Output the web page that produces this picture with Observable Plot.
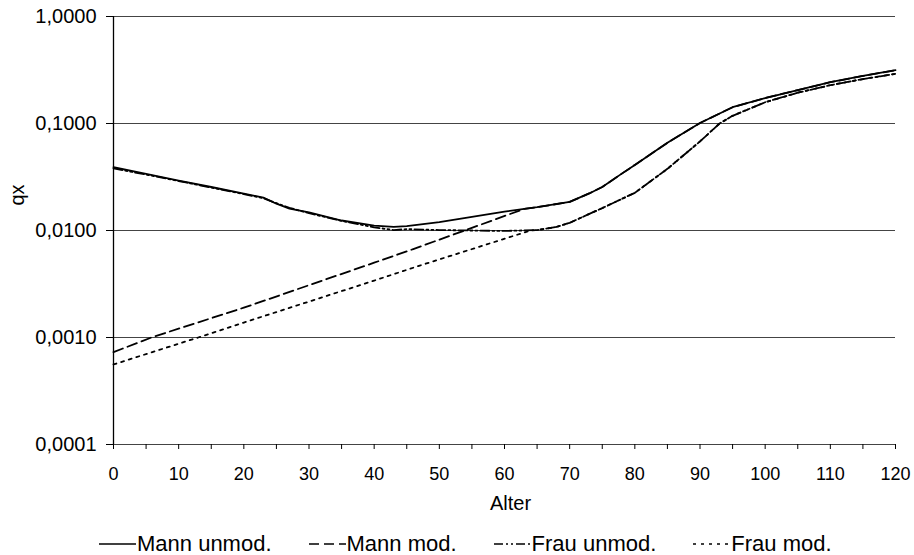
<!DOCTYPE html>
<html>
<head>
<meta charset="utf-8">
<script src="https://cdn.jsdelivr.net/npm/d3@7"></script>
<script src="https://cdn.jsdelivr.net/npm/@observablehq/plot@0.6"></script>
<style>
  html, body { margin: 0; padding: 0; background: #fff; }
  body { width: 914px; height: 555px; overflow: hidden; font-family: "Liberation Sans", Arial, sans-serif; }
  #legend { display: flex; justify-content: flex-start; align-items: center; gap: 37px; margin-left: 99px; padding-top: 13px; height: 22px; font-size: 22px; color: #000; white-space: nowrap; }
  .item { display: flex; align-items: center; }
  .item svg { margin-right: 1px; }
</style>
</head>
<body>
<div id="chart"></div>
<div id="legend"></div>
<script>
// Series names
const seriesNames = ["Mann unmod.", "Mann mod.", "Frau unmod.", "Frau mod."];

// Mann unmodifiziert
const agesMannUnmod = [0, 5, 10, 15, 20, 23, 25, 27, 30, 35, 40, 43, 45, 50, 55, 60, 65, 70, 73, 75, 78, 80, 85, 90, 95, 100, 105, 110, 115, 120];
const qxMannUnmod  = [0.039, 0.0338, 0.0293, 0.0255, 0.0221, 0.0203, 0.0178, 0.0160, 0.0148, 0.0124, 0.0111, 0.0108, 0.0110, 0.0120, 0.0134, 0.0150, 0.0165, 0.0185, 0.0222, 0.0255, 0.0340, 0.041, 0.066, 0.101, 0.142, 0.173, 0.205, 0.243, 0.278, 0.315];

// Mann modifiziert
const agesMannMod = [0, 6, 20, 40, 46, 63, 65, 70, 73, 75, 78, 80, 85, 90, 95, 100, 105, 110, 115, 120];
const qxMannMod   = [0.00073, 0.00101, 0.0019, 0.0050, 0.0067, 0.0159, 0.0165, 0.0185, 0.0222, 0.0255, 0.0340, 0.041, 0.066, 0.101, 0.142, 0.173, 0.205, 0.243, 0.278, 0.315];

// Frau unmodifiziert
const agesFrauUnmod = [0, 5, 10, 15, 20, 23, 25, 27, 30, 35, 40, 43, 45, 50, 55, 60, 65, 68, 70, 75, 80, 85, 90, 93, 95, 100, 105, 110, 115, 120];
const qxFrauUnmod  = [0.038, 0.0333, 0.0290, 0.0252, 0.0219, 0.0200, 0.0180, 0.0163, 0.0145, 0.0123, 0.0107, 0.0101, 0.0103, 0.0101, 0.0100, 0.0099, 0.0101, 0.0108, 0.0118, 0.0162, 0.0225, 0.0377, 0.068, 0.100, 0.118, 0.158, 0.194, 0.228, 0.260, 0.291];

// Frau modifiziert
const agesFrauMod = [0, 13, 20, 40, 47, 64, 65, 68, 70, 75, 80, 85, 90, 93, 95, 100, 105, 110, 115, 120];
const qxFrauMod   = [0.00056, 0.0010, 0.00138, 0.0034, 0.0047, 0.0100, 0.0101, 0.0108, 0.0118, 0.0162, 0.0225, 0.0377, 0.068, 0.100, 0.118, 0.158, 0.194, 0.228, 0.260, 0.291];

// Axis ticks and titles
const xTicks = d3.range(0, 121, 5);
const yTicks = [1, 0.1, 0.01, 0.001, 0.0001];
const xTitle = "Alter";
const yTitle = "qx";

const dashes = {
  "Mann unmod.": null,
  "Mann mod.": "10,5",
  "Frau unmod.": "9,3,2,3,2,3",
  "Frau mod.": "3,5"
};

function rows(name, ages, vals) {
  return ages.map((a, i) => ({ age: a, qx: vals[i], series: name }));
}
const data = {
  "Mann unmod.": rows("Mann unmod.", agesMannUnmod, qxMannUnmod),
  "Mann mod.": rows("Mann mod.", agesMannMod, qxMannMod),
  "Frau unmod.": rows("Frau unmod.", agesFrauUnmod, qxFrauUnmod),
  "Frau mod.": rows("Frau mod.", agesFrauMod, qxFrauMod)
};

const fmtY = d => d.toFixed(4).replace(".", ",");

const chart = Plot.plot({
  width: 914,
  height: 520,
  marginLeft: 113,
  marginRight: 19,
  marginTop: 16,
  marginBottom: 76,
  style: { fontFamily: "'Liberation Sans', Arial, sans-serif", fontSize: "18px", color: "#000", background: "#fff" },
  x: { domain: [0, 120] },
  y: { type: "log", domain: [0.0001, 1] },
  marks: [
    Plot.ruleY(yTicks, { stroke: "#444", strokeWidth: 1 }),
    Plot.ruleX([0], { stroke: "#000", strokeWidth: 1.3 }),
    Plot.axisX({ ticks: xTicks, tickSize: 5, tickPadding: 18, fontSize: 18, tickFormat: d => d % 10 === 0 ? String(d) : "", label: null }),
    Plot.axisY({ ticks: yTicks, tickSize: 7, tickPadding: 10, fontSize: 20, tickFormat: fmtY, label: null }),
    Plot.text([xTitle], { frameAnchor: "bottom", lineAnchor: "middle", dy: 59, dx: 6, fontSize: 20, text: d => d }),
    Plot.text([yTitle], { frameAnchor: "left", dx: -96, dy: -25, rotate: -90, fontSize: 20, text: d => d }),
    ...seriesNames.map(n => Plot.line(data[n], { x: "age", y: "qx", stroke: "#000", strokeWidth: 1.8, strokeDasharray: dashes[n] }))
  ]
});
document.getElementById("chart").appendChild(chart);

// Legend
const legend = document.getElementById("legend");
for (const n of seriesNames) {
  const item = document.createElement("div");
  item.className = "item";
  const sw = d3.create("svg").attr("width", 37).attr("height", 10);
  sw.append("line").attr("x1", 0).attr("x2", 37).attr("y1", 5).attr("y2", 5)
    .attr("stroke", "#000").attr("stroke-width", 1.6)
    .attr("stroke-dasharray", dashes[n]);
  item.appendChild(sw.node());
  const t = document.createElement("span");
  t.textContent = n;
  item.appendChild(t);
  legend.appendChild(item);
}
</script>
</body>
</html>
